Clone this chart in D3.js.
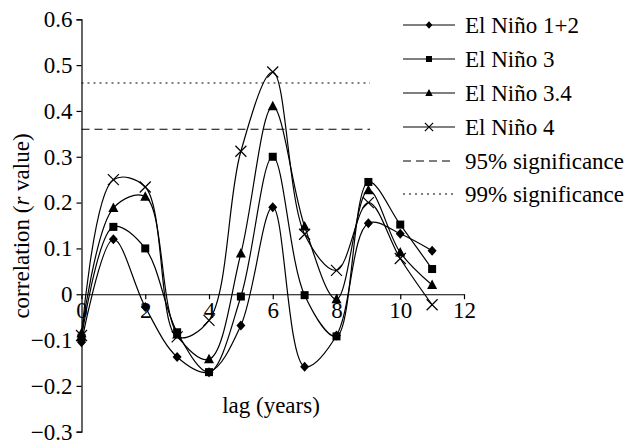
<!DOCTYPE html>
<html>
<head>
<meta charset="utf-8">
<script src="https://cdn.jsdelivr.net/npm/d3@7"></script>
<style>
body { margin: 0; background: #fff; }
</style>
</head>
<body>
<svg width="641" height="441" font-family="Liberation Serif, DejaVu Serif, serif"></svg>
<script>
// lags (years)
var lags = [0, 1, 2, 3, 4, 5, 6, 7, 8, 9, 10, 11];

// correlation values
var nino12 = [-0.105, 0.12, -0.028, -0.137, -0.17, -0.068, 0.19, -0.158, -0.09, 0.155, 0.132, 0.095];
var nino3  = [-0.095, 0.147, 0.10, -0.083, -0.17, -0.005, 0.30, -0.002, -0.092, 0.245, 0.152, 0.055];
var nino34 = [-0.085, 0.188, 0.213, -0.088, -0.142, 0.089, 0.41, 0.148, -0.011, 0.227, 0.091, 0.02];
var nino4  = [-0.09, 0.25, 0.234, -0.093, -0.057, 0.312, 0.485, 0.131, 0.052, 0.2, 0.078, -0.023];

var sig95 = 0.36, sig99 = 0.461;

var seriesNames = ["El Niño 1+2", "El Niño 3", "El Niño 3.4", "El Niño 4"];
var seriesVals = [nino12, nino3, nino34, nino4];
var markers = ["diamond", "square", "triangle", "cross"];

var xTicks = [0, 2, 4, 6, 8, 10, 12];
var yTicks = [-0.3, -0.2, -0.1, 0, 0.1, 0.2, 0.3, 0.4, 0.5, 0.6];

var FONT = "'Liberation Serif', 'DejaVu Serif', serif";
var FS = "23px";
var svg = d3.select("svg");

var x = d3.scaleLinear().domain([0, 12]).range([81.5, 464]);
var y = d3.scaleLinear().domain([-0.3, 0.6]).range([431.7, 19.3]);

var fmt = function(d) { return d === 0 ? "0" : d3.format(".1f")(d).replace("-", "\u2212"); };

function styleText(sel) {
    sel.style("font-family", FONT).style("font-size", FS).attr("fill", "#000");
}

// y axis
var yAxis = svg.append("g")
    .attr("transform", "translate(" + x(0) + ",0)")
    .call(d3.axisLeft(y).tickValues(yTicks).tickFormat(fmt).tickSize(5).tickPadding(4));
yAxis.select(".domain").attr("stroke", "#000").attr("stroke-width", 1.2);
yAxis.selectAll(".tick line").attr("stroke", "#000").attr("stroke-width", 1.2);
yAxis.selectAll("text").call(styleText);

// x axis sits on zero line
var xAxis = svg.append("g")
    .attr("transform", "translate(0," + y(0) + ")")
    .call(d3.axisBottom(x).tickValues(xTicks).tickFormat(d3.format("d")).tickSizeInner(5).tickSizeOuter(0).tickPadding(2));
xAxis.select(".domain").attr("stroke", "#000").attr("stroke-width", 1.2);
xAxis.selectAll(".tick line").attr("stroke", "#000").attr("stroke-width", 1.2);
xAxis.selectAll("text").call(styleText);

// significance lines
svg.append("line")
    .attr("x1", x(0)).attr("x2", 370)
    .attr("y1", y(sig95)).attr("y2", y(sig95))
    .attr("stroke", "#000").attr("stroke-width", 1.1)
    .attr("stroke-dasharray", "8,5");
svg.append("line")
    .attr("x1", x(0)).attr("x2", 370)
    .attr("y1", y(sig99)).attr("y2", y(sig99))
    .attr("stroke", "#000").attr("stroke-width", 1.1)
    .attr("stroke-dasharray", "2,4");

var line = d3.line()
    .x(function(d, i) { return x(lags[i]); })
    .y(function(d) { return y(d); })
    .curve(d3.curveCatmullRom.alpha(0.5));

function drawMarker(g, type, cx, cy, s) {
    s = s || 1;
    if (type === "diamond") {
        g.append("path").attr("d", "M" + cx + "," + (cy - 5 * s) + "L" + (cx + 4.5 * s) + "," + cy + "L" + cx + "," + (cy + 5 * s) + "L" + (cx - 4.5 * s) + "," + cy + "Z")
            .attr("fill", "#000");
    } else if (type === "square") {
        g.append("rect").attr("x", cx - 4 * s).attr("y", cy - 4 * s).attr("width", 8 * s).attr("height", 8 * s).attr("fill", "#000");
    } else if (type === "triangle") {
        g.append("path").attr("d", "M" + cx + "," + (cy - 5.5 * s) + "L" + (cx + 5 * s) + "," + (cy + 4 * s) + "L" + (cx - 5 * s) + "," + (cy + 4 * s) + "Z")
            .attr("fill", "#000");
    } else {
        var r = 5.5 * s;
        g.append("path").attr("d", "M" + (cx - r) + "," + (cy - r) + "L" + (cx + r) + "," + (cy + r) +
            "M" + (cx - r) + "," + (cy + r) + "L" + (cx + r) + "," + (cy - r))
            .attr("stroke", "#000").attr("stroke-width", 1.2).attr("fill", "none");
    }
}

seriesVals.forEach(function(vals, k) {
    var g = svg.append("g");
    g.append("path").datum(vals)
        .attr("d", line)
        .attr("fill", "none")
        .attr("stroke", "#000")
        .attr("stroke-width", 1.2);
    vals.forEach(function(v, i) {
        drawMarker(g, markers[k], x(lags[i]), y(v));
    });
});

// axis titles
svg.append("text")
    .attr("x", 271).attr("y", 413)
    .attr("text-anchor", "middle")
    .call(styleText)
    .text("lag (years)");

var yt = svg.append("text")
    .attr("transform", "translate(29,226) rotate(-90)")
    .attr("text-anchor", "middle")
    .call(styleText);
yt.append("tspan").text("correlation (");
yt.append("tspan").style("font-style", "italic").text("r");
yt.append("tspan").text(" value)");

// legend
var legNames = seriesNames.concat(["95% significance", "99% significance"]);
var legY = [25, 59, 93, 127, 161, 194];
legNames.forEach(function(name, i) {
    var g = svg.append("g");
    var ly = legY[i];
    var ln = g.append("line")
        .attr("x1", 403).attr("x2", 455)
        .attr("y1", ly).attr("y2", ly)
        .attr("stroke", "#000").attr("stroke-width", 1.1);
    if (i < 4) {
        drawMarker(g, markers[i], 429, ly, 0.75);
    } else if (i === 4) {
        ln.attr("stroke-dasharray", "8,5");
    } else {
        ln.attr("stroke-dasharray", "2,4");
    }
    g.append("text")
        .attr("x", 465).attr("y", ly)
        .attr("dy", "0.35em")
        .call(styleText)
        .text(name);
});
</script>
</body>
</html>
